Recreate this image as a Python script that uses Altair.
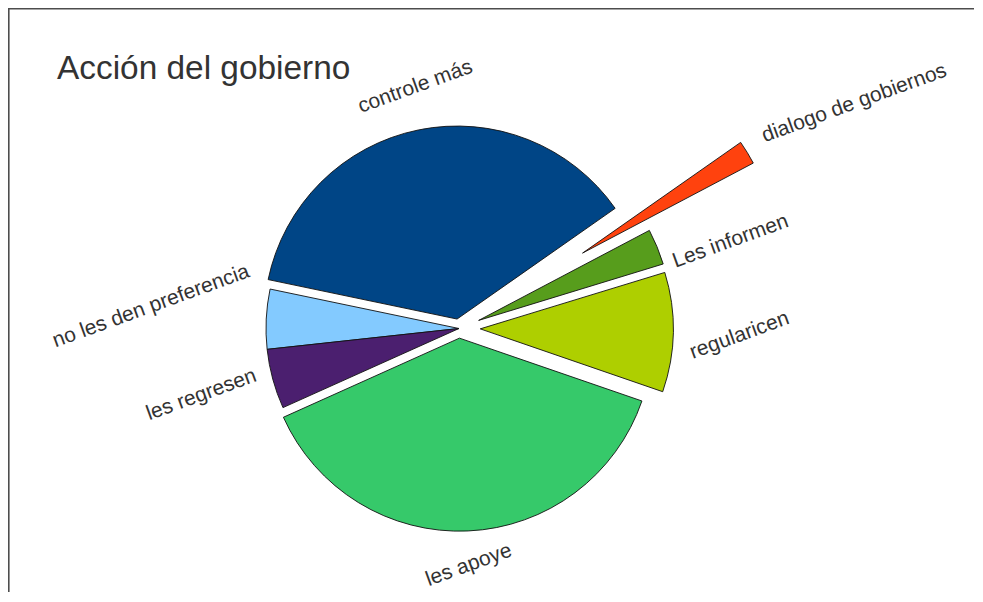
import math
import altair as alt
import pandas as pd

# ---------------- data ----------------
categories = ["controle más", "no les den preferencia", "les regresen", "les apoye",
              "regularicen", "Les informen", "dialogo de gobiernos"]
values = [37, 5, 5, 38, 10, 3, 2]
explode = [0.05, 0.0, 0.0, 0.05, 0.11, 0.11, 0.75]      # fraction of radius
colors = ["#004586", "#83caff", "#4b1f6f", "#36c96a", "#aecf00", "#579d1c", "#ff420e"]
title_text = "Acción del gobierno"

# ---------------- layout ----------------
W, H = 962, 584
PAD_L = 4
R = 193.0                 # pie radius in px
CX, CY = 447.0, 320.5     # pie centre inside the view, px
START_DEG = 35.0          # first slice starts here (math angle, counter-clockwise)
LABEL_SIZE = 21
LABEL_ROT = 20.0          # text rises to the right by this many degrees
GAP = 14.5
FONT = "Liberation Sans"
# labels pushed apart to avoid overlapping (screen px, +down)
label_nudge = {"no les den preferencia": -12.0, "les regresen": 12.0, "regularicen": 3.0,
               "les apoye": -4.0}

x_dom = [-CX / R, (W - CX) / R]
y_dom = [-(H - CY) / R, CY / R]

# approximate Arial/Liberation Sans advance widths (per em)
_w = {" ": .278, "a": .556, "b": .556, "c": .5, "d": .556, "e": .556, "f": .278, "g": .556,
      "i": .222, "l": .222, "m": .833, "n": .556, "o": .556, "p": .556, "r": .333, "s": .5,
      "t": .278, "u": .556, "y": .5, "L": .556, "á": .556, "ó": .556}


def text_w(s):
    return sum(_w.get(ch, .556) for ch in s)


rows = []
total = sum(values)
cum = 0.0
cr, sr = math.cos(math.radians(LABEL_ROT)), math.sin(math.radians(LABEL_ROT))
for cat, v, ex in zip(categories, values, explode):
    a0 = START_DEG + 360.0 * cum / total
    cum += v
    a1 = START_DEG + 360.0 * cum / total
    amd = (a0 + a1) / 2
    am = math.radians(amd)
    ux, uy = math.cos(am), math.sin(am)
    ox, oy = ex * ux, ex * uy
    t0 = math.radians(90 - a1 + 360)
    t1 = math.radians(90 - a0 + 360)
    # rotated label bounding box, aligned to the anchor by compass octant
    w = text_w(cat) * LABEL_SIZE
    h = 0.85 * LABEL_SIZE
    bw = w * cr + h * sr
    bh = w * sr + h * cr
    octant = round((amd % 360) / 45.0) % 8
    sx = [1, 1, 0, -1, -1, -1, 0, 1][octant]
    sy = [0, 1, 1, 1, 0, -1, -1, -1][octant]
    px = ox + (R + GAP) / R * ux + sx * bw / 2 / R
    py = oy + (R + GAP) / R * uy + sy * bh / 2 / R - label_nudge.get(cat, 0.0) / R
    rows.append(dict(cat=cat, value=v, t0=t0, t1=t1, x=ox, y=oy, lx=px, ly=py))

df = pd.DataFrame(rows)

xs = alt.Scale(domain=x_dom, nice=False, zero=False)
ys = alt.Scale(domain=y_dom, nice=False, zero=False)

arcs = alt.Chart(df).mark_arc(radius=R, stroke="#111111", strokeWidth=0.9).encode(
    x=alt.X("x:Q", scale=xs, axis=None),
    y=alt.Y("y:Q", scale=ys, axis=None),
    theta=alt.Theta("t0:Q", scale=None, stack=None),
    theta2="t1:Q",
    color=alt.Color("cat:N", scale=alt.Scale(domain=categories, range=colors), legend=None),
)

labels = alt.Chart(df).mark_text(angle=360 - LABEL_ROT, align="center", baseline="middle",
                                 fontSize=LABEL_SIZE, font=FONT, color="#333333").encode(
    x=alt.X("lx:Q", scale=xs, axis=None),
    y=alt.Y("ly:Q", scale=ys, axis=None),
    text="cat:N",
)

one = pd.DataFrame({"k": [0]})
title = alt.Chart(one).mark_text(align="left", baseline="alphabetic", fontSize=33.4,
                                 font=FONT, color="#333333").encode(
    x=alt.value(45), y=alt.value(71), text=alt.value(title_text))

# chart frame (top and left edges) drawn as thin filled bands
frame_top = alt.Chart(one).mark_rect(color="#4d4d4d").encode(
    x=alt.value(-PAD_L), x2=alt.value(W), y=alt.value(0), y2=alt.value(1.6))
frame_left = alt.Chart(one).mark_rect(color="#4d4d4d").encode(
    x=alt.value(-PAD_L), x2=alt.value(-PAD_L + 1.6), y=alt.value(0), y2=alt.value(H))

chart = alt.layer(frame_top, frame_left, arcs, labels, title).properties(
    width=W, height=H,
    autosize=alt.AutoSizeParams(type="none"),
    padding={"left": PAD_L, "top": 0, "right": 0, "bottom": 0},
    background="white",
).configure_view(stroke=None)

chart.save("out.html", embed_options={"renderer": "svg", "actions": False})
